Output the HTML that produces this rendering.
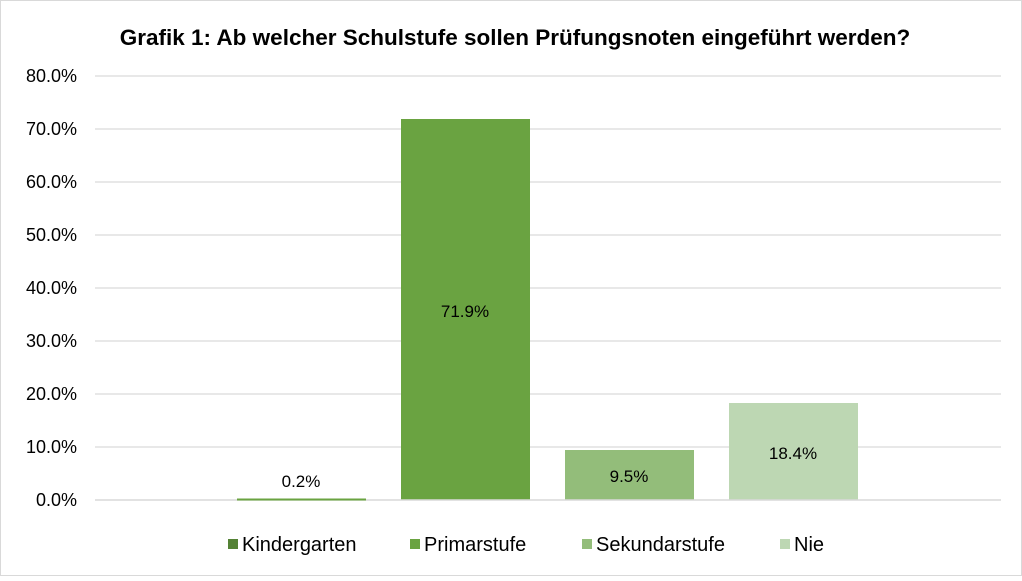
<!DOCTYPE html>
<html><head><meta charset="utf-8"><style>
body{margin:0;background:#fff}
svg text{font-family:"Liberation Sans",Arial,sans-serif}
</style></head><body>
<svg width="1022" height="576" xmlns="http://www.w3.org/2000/svg">
<rect x="0.5" y="0.5" width="1021" height="575" fill="#fff" stroke="#d9d9d9"/>
<text x="515" y="45" text-anchor="middle" font-size="22.5" font-weight="bold" fill="#000">Grafik 1: Ab welcher Schulstufe sollen Prüfungsnoten eingeführt werden?</text>
<g stroke="#d9d9d9" stroke-width="1.3">
<line x1="95" x2="1001" y1="76" y2="76"/><line x1="95" x2="1001" y1="129" y2="129"/>
<line x1="95" x2="1001" y1="182" y2="182"/><line x1="95" x2="1001" y1="235" y2="235"/>
<line x1="95" x2="1001" y1="288" y2="288"/><line x1="95" x2="1001" y1="341" y2="341"/>
<line x1="95" x2="1001" y1="394" y2="394"/><line x1="95" x2="1001" y1="447" y2="447"/>
</g>
<g font-size="18" fill="#000" text-anchor="end">
<text x="77" y="82">80.0%</text><text x="77" y="135">70.0%</text><text x="77" y="188">60.0%</text>
<text x="77" y="241">50.0%</text><text x="77" y="294">40.0%</text><text x="77" y="347">30.0%</text>
<text x="77" y="400">20.0%</text><text x="77" y="453">10.0%</text><text x="77" y="506">0.0%</text>
</g>
<rect x="401" y="119" width="129" height="381" fill="#6aa341"/>
<rect x="565" y="450" width="129" height="50" fill="#93bd7a"/>
<rect x="729" y="403" width="129" height="97" fill="#bdd7b3"/>
<line x1="95" x2="1001" y1="500" y2="500" stroke="#d9d9d9" stroke-width="1.5"/>
<rect x="237" y="498.5" width="129" height="2" fill="#6aa341"/>
<g font-size="17" fill="#000" text-anchor="middle">
<text x="301" y="487">0.2%</text><text x="465" y="317">71.9%</text>
<text x="629" y="482">9.5%</text><text x="793" y="459">18.4%</text>
</g>
<g font-size="20" fill="#000">
<rect x="228" y="539" width="10" height="10" fill="#548235"/><text x="242" y="551">Kindergarten</text>
<rect x="410" y="539" width="10" height="10" fill="#6aa341"/><text x="424" y="551">Primarstufe</text>
<rect x="582" y="539" width="10" height="10" fill="#93bd7a"/><text x="596" y="551">Sekundarstufe</text>
<rect x="780" y="539" width="10" height="10" fill="#bdd7b3"/><text x="794" y="551">Nie</text>
</g>
</svg>
</body></html>
